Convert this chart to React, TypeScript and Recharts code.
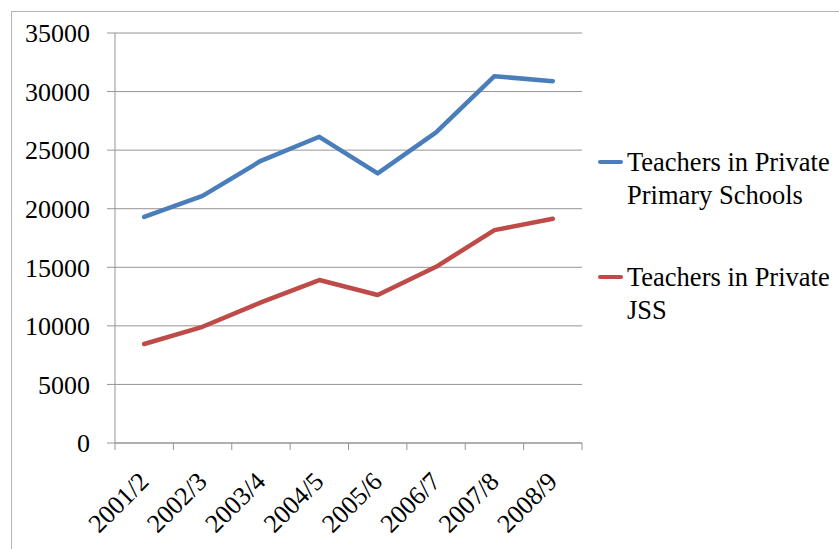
import React from 'react';
import { LineChart, Line, XAxis, YAxis, CartesianGrid, Legend } from 'recharts';

const years = ['2001/2', '2002/3', '2003/4', '2004/5', '2005/6', '2006/7', '2007/8', '2008/9'];
const primaryTeachers = [19300, 21100, 24090, 26140, 23010, 26510, 31310, 30890];
const jssTeachers = [8450, 9920, 12000, 13910, 12630, 15040, 18170, 19140];
const yTicks = [0, 5000, 10000, 15000, 20000, 25000, 30000, 35000];

const SERIES = [
  { key: 'primary', name: 'Teachers in Private Primary Schools', color: '#4A7EBB', values: primaryTeachers },
  { key: 'jss', name: 'Teachers in Private JSS', color: '#BE4B48', values: jssTeachers },
];

const data = years.map((year, i) => {
  const row: any = { year };
  SERIES.forEach((s) => { row[s.key] = s.values[i]; });
  return row;
});

const FONT = '"Liberation Serif", "Times New Roman", serif';
const AXIS_GRAY = '#959595';

function YearTick(props: any) {
  const { x, y, payload, index } = props;
  const half = payload?.offset ?? 29.2;
  const lx = x + 6;
  const ly = y + 40;
  return (
    <g>
      <line x1={x - half} y1={y} x2={x - half} y2={y + 7} stroke={AXIS_GRAY} strokeWidth={1} />
      {index === years.length - 1 && (
        <line x1={x + half} y1={y} x2={x + half} y2={y + 7} stroke={AXIS_GRAY} strokeWidth={1} />
      )}
      <text x={lx} y={ly} textAnchor="end" transform={`rotate(-45, ${lx}, ${ly})`}
        fontFamily={FONT} fontSize={26} fill="#000">
        {payload.value}
      </text>
    </g>
  );
}

// legend keeps the series order of the source chart
function SeriesLegend() {
  return (
    <div style={{ fontFamily: FONT, fontSize: 26.5, lineHeight: '33px', color: '#000' }}>
      {SERIES.map((s, i) => (
        <div key={s.key} style={{ display: 'flex', alignItems: 'flex-start', marginTop: i === 0 ? 0 : 49 }}>
          <div style={{ width: 25, height: 4, borderRadius: 2, background: s.color, marginTop: 14, marginRight: 4, flexShrink: 0 }} />
          <div style={{ width: 212 }}>{s.name}</div>
        </div>
      ))}
    </div>
  );
}

export default function App() {
  return (
    <div style={{ position: 'fixed', left: 0, top: 0, width: 839, height: 549, overflow: 'hidden', background: '#fff' }}>
      <div style={{ position: 'absolute', left: 11, top: 11, width: 1000, height: 1000, border: '1px solid #b3b3b3' }} />
      <div style={{ position: 'absolute', left: 0, top: 0 }}>
        <LineChart width={839} height={549} data={data} margin={{ top: 33, right: 257, bottom: 26, left: 0 }}>
          <CartesianGrid vertical={false} stroke={AXIS_GRAY} strokeWidth={1} />
          <XAxis
            dataKey="year"
            scale="band"
            height={80}
            tickSize={0}
            tickMargin={0}
            tickLine={false}
            axisLine={{ stroke: AXIS_GRAY, strokeWidth: 1 }}
            interval={0}
            tick={<YearTick />}
          />
          <YAxis
            width={115}
            domain={[0, 35000]}
            ticks={yTicks}
            interval={0}
            tickSize={8}
            tickMargin={17}
            axisLine={{ stroke: AXIS_GRAY, strokeWidth: 1 }}
            tickLine={{ stroke: AXIS_GRAY, strokeWidth: 1 }}
            tick={{ fontFamily: FONT, fontSize: 26, fill: '#000' }}
          />
          {SERIES.map((s) => (
            <Line
              key={s.key}
              type="linear"
              dataKey={s.key}
              name={s.name}
              stroke={s.color}
              strokeWidth={4.5}
              strokeLinecap="round"
              strokeLinejoin="round"
              dot={false}
              activeDot={false}
              isAnimationActive={false}
            />
          ))}
          <Legend
            layout="horizontal"
            align="center"
            verticalAlign="middle"
            content={<SeriesLegend />}
            wrapperStyle={{ left: 598, top: 146, width: 241, height: 'auto' }}
          />
        </LineChart>
      </div>
    </div>
  );
}
